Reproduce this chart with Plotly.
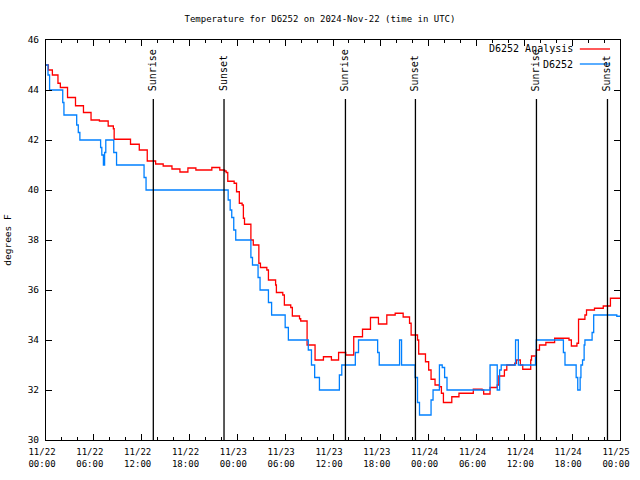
import pandas as pd
import plotly.graph_objects as go

BASE = pd.Timestamp("2024-11-22 00:00")

# D6252 Analysis (hours since 11/22 00:00 UTC, degrees F)
analysis_hours = [0.0, 0.3, 0.8, 1.5, 1.8, 2.7, 3.7, 4.7, 5.65, 6.7, 7.8, 8.45, 8.55,
                  10.6, 11.7, 12.7, 13.75, 14.7, 15.8, 16.8, 17.8, 18.8, 20.8, 21.8,
                  22.4, 22.6, 22.8, 23.6, 23.9, 24.25, 24.6, 24.76, 24.9, 25.7, 26.0,
                  26.7, 26.9, 27.7, 27.9, 28.8, 28.9, 29.7, 29.9, 30.7, 30.9, 31.8,
                  31.95, 32.75, 33.75, 34.8, 35.8, 36.7, 37.6, 38.6, 39.7, 40.7, 41.7,
                  42.75, 43.8, 44.8, 45.6, 45.8, 46.6, 46.75, 47.6, 48.0, 48.3, 48.8,
                  49.35, 49.6, 49.85, 50.9, 51.8, 53.6, 54.7, 54.9, 55.7, 56.6, 56.8,
                  57.5, 57.8, 58.8, 59.0, 59.5, 59.8, 60.8, 60.9, 61.5, 61.9, 62.7,
                  63.8, 65.6, 65.9, 66.6, 66.8, 67.6, 67.8, 68.8, 69.9, 70.8, 72.0]
analysis_vals = [45.0, 44.8, 44.6, 44.27, 44.1, 43.7, 43.37, 43.1, 42.8, 42.76, 42.56, 42.45, 42.03,
                 41.83, 41.6, 41.16, 41.04, 40.96, 40.84, 40.72, 40.88, 40.8, 40.9, 40.8,
                 40.76, 40.7, 40.35, 40.27, 39.93, 39.47, 39.4, 38.87, 38.63, 38.0, 37.8,
                 37.07, 36.9, 36.8, 36.4, 36.2, 35.9, 35.8, 35.4, 35.3, 34.96, 34.85,
                 34.76, 33.8, 33.2, 33.33, 33.2, 33.5, 33.4, 34.13, 34.43, 34.9, 34.64,
                 35.0, 35.07, 34.92, 34.67, 34.2, 34.0, 33.44, 33.13, 32.8, 32.43, 32.2,
                 32.13, 31.87, 31.5, 31.73, 31.87, 32.03, 32.0, 31.84, 32.1, 32.2, 32.56,
                 32.8, 33.0, 33.07, 33.2, 33.0, 32.83, 33.2, 33.36, 33.6, 33.8, 33.9,
                 34.07, 34.0, 33.76, 33.87, 34.83, 35.0, 35.2, 35.27, 35.36, 35.67, 35.67]

# D6252 observations
obs_hours = [0.0, 0.25, 0.45, 2.1, 2.25, 3.85, 4.05, 4.25, 6.85, 7.0, 7.2, 7.35, 7.5,
             8.5, 8.85, 12.3, 12.55, 22.85, 23.1, 23.3, 23.55, 23.8, 25.7, 25.9, 26.6,
             26.85, 27.9, 28.3, 30.0, 30.4, 32.9, 33.3, 33.7, 34.3, 36.8, 37.1, 38.8,
             39.2, 41.6, 41.8, 44.35, 44.45, 44.6, 46.3, 46.6, 46.85, 48.3, 48.55, 49.35,
             49.7, 50.0, 50.3, 55.7, 56.6, 56.9, 57.1, 58.9, 59.05, 59.25, 61.4, 61.5,
             64.9, 65.1, 66.5, 66.7, 67.0, 67.1, 67.3, 67.5, 67.6, 68.5, 68.7, 71.6, 72.0]
obs_vals = [45.0, 44.6, 44.0, 43.5, 43.0, 42.6, 42.3, 42.0, 41.7, 41.4, 41.0, 41.5, 42.0,
            41.5, 41.0, 40.5, 40.0, 39.6, 39.2, 38.9, 38.4, 38.0, 37.3, 37.0, 36.5,
            36.0, 35.5, 35.0, 34.5, 34.0, 33.6, 33.0, 32.5, 32.0, 32.6, 33.0, 33.5,
            34.0, 33.5, 33.0, 34.0, 34.0, 33.0, 32.5, 31.5, 31.0, 31.6, 32.0, 33.0,
            32.9, 32.5, 32.0, 33.0, 32.0, 32.8, 33.0, 34.0, 34.0, 33.0, 33.3, 34.0,
            33.5, 33.0, 32.5, 32.0, 32.5, 33.0, 33.2, 33.8, 34.0, 34.3, 35.0, 34.95, 34.95]

# Sun events (hours since 11/22 00:00 UTC)
event_names = ["Sunrise", "Sunset", "Sunrise", "Sunset", "Sunrise", "Sunset"]
event_hours = [13.46, 22.33, 37.56, 46.34, 61.52, 70.43]

# Axis ticks
tick_hours = [0, 6, 12, 18, 24, 30, 36, 42, 48, 54, 60, 66, 72]
tick_labels = ["11/22<br>00:00", "11/22<br>06:00", "11/22<br>12:00", "11/22<br>18:00",
               "11/23<br>00:00", "11/23<br>06:00", "11/23<br>12:00", "11/23<br>18:00",
               "11/24<br>00:00", "11/24<br>06:00", "11/24<br>12:00", "11/24<br>18:00",
               "11/25<br>00:00"]
y_ticks = [30, 32, 34, 36, 38, 40, 42, 44, 46]

def to_time(hours):
    return [BASE + pd.Timedelta(hours=h) for h in hours]

FONT = "DejaVu Sans Mono"
FS = 9
TFS = 9
RED = "#ff0000"
BLUE = "#0080ff"

fig = go.Figure()
fig.add_trace(go.Scatter(x=to_time(analysis_hours), y=analysis_vals, mode="lines",
                         line=dict(color=RED, width=1.3, shape="hv"),
                         name="D6252 Analysis", showlegend=False))
fig.add_trace(go.Scatter(x=to_time(obs_hours), y=obs_vals, mode="lines",
                         line=dict(color=BLUE, width=1.3, shape="hv"),
                         name="D6252", showlegend=False))

for name, h in zip(event_names, event_hours):
    t = BASE + pd.Timedelta(hours=h)
    fig.add_shape(type="line", xref="x", yref="y", x0=t, x1=t, y0=30, y1=43.64,
                  line=dict(color="black", width=1.3))
    fig.add_annotation(x=t, y=0.8675, xref="x", yref="paper", text=name,
                       textangle=-90, showarrow=False, xanchor="center", yanchor="bottom",
                       font=dict(family=FONT, size=FS + 1, color="black"))

# Custom legend (gnuplot style: text right, sample line after)
legend_items = [("D6252 Analysis", RED, 0.9775), ("D6252", BLUE, 0.94)]
for label, col, yp in legend_items:
    fig.add_annotation(x=0.9216, y=yp, xref="paper", yref="paper", text=label,
                       showarrow=False, xanchor="right", yanchor="middle",
                       font=dict(family=FONT, size=FS + 1, color="black"))
    fig.add_shape(type="line", xref="paper", yref="paper", x0=0.930, x1=0.9826,
                  y0=yp, y1=yp, line=dict(color=col, width=1.3))

fig.update_layout(
    width=640, height=480,
    margin=dict(l=46, r=20, t=40, b=40, autoexpand=False),
    paper_bgcolor="white", plot_bgcolor="white",
    font=dict(family=FONT, size=FS, color="black"),
    title=dict(text="Temperature for D6252 on 2024-Nov-22 (time in UTC)",
               x=0.5, xanchor="center", y=1 - 19 / 480, yanchor="middle",
               font=dict(family=FONT, size=FS)),
    showlegend=False,
)
fig.update_xaxes(
    range=[BASE, BASE + pd.Timedelta(hours=72)], automargin=False,
    tickmode="array", tickvals=to_time(tick_hours), ticktext=tick_labels,
    ticks="inside", ticklen=6, tickwidth=1, tickcolor="black",
    ticklabelshift=-4, ticklabelstandoff=3,
    minor=dict(dtick=2 * 3600 * 1000, ticks="inside", ticklen=3, tickcolor="black",
               showgrid=False),
    showline=True, linecolor="black", linewidth=1, mirror="ticks",
    showgrid=False, zeroline=False, tickfont=dict(family=FONT, size=TFS),
)
fig.update_yaxes(
    range=[30, 46], tickvals=y_ticks, automargin=False,
    ticks="inside", ticklen=6, tickwidth=1, tickcolor="black",
    ticklabelstandoff=4,
    showline=True, linecolor="black", linewidth=1, mirror="ticks",
    showgrid=False, zeroline=False, tickfont=dict(family=FONT, size=TFS + 0.5),
    title=dict(text="degrees F", font=dict(family=FONT, size=FS + 0.5), standoff=14),
)

fig.write_html("out.html", config={"displayModeBar": False},
               post_script="document.body.style.margin='0';")
